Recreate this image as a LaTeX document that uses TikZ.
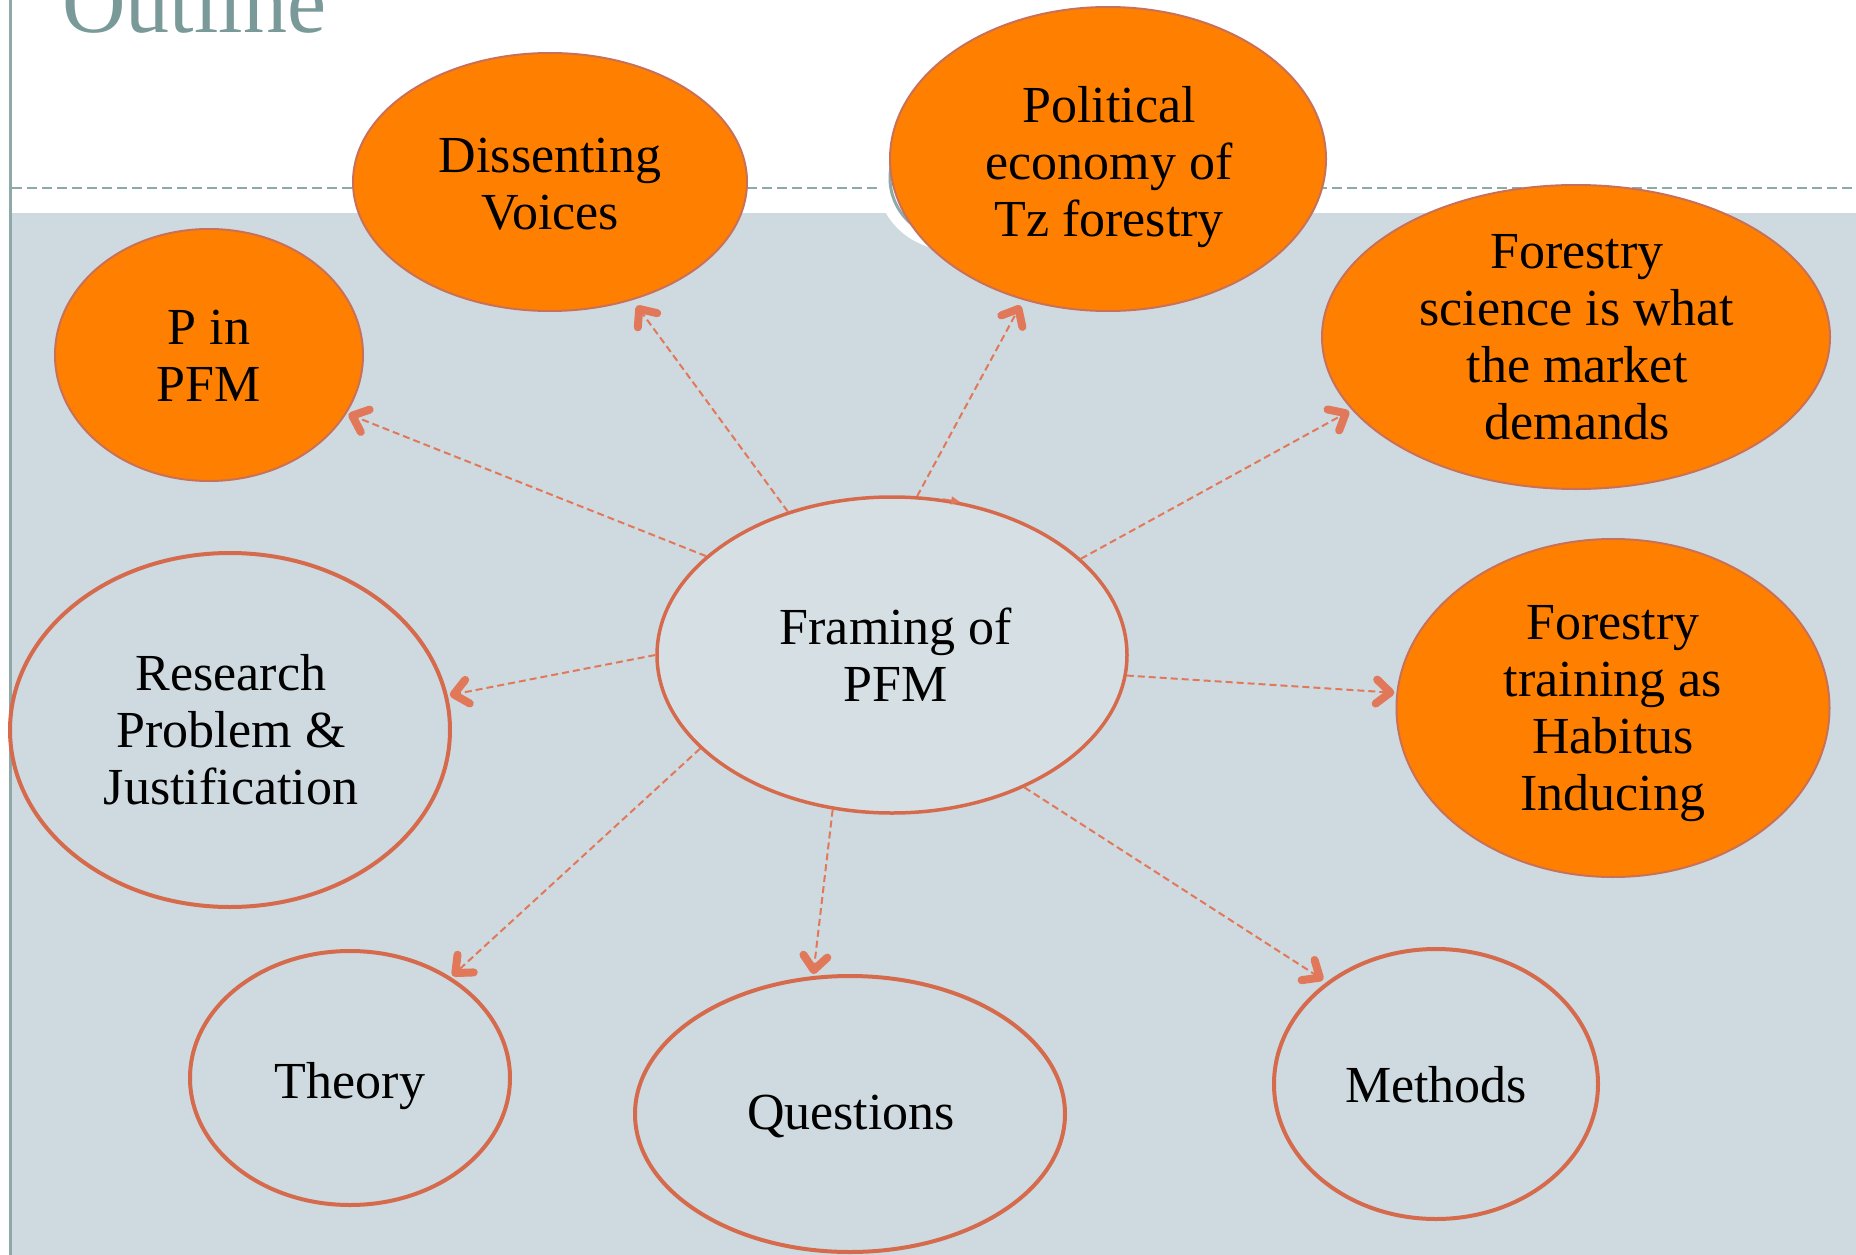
\documentclass[tikz,border=0pt]{standalone}
\usepackage{fontspec}
\setmainfont{Liberation Serif}
\usetikzlibrary{shapes.geometric,arrows.meta}
\definecolor{slate}{RGB}{206,218,223}
\definecolor{hubfill}{RGB}{214,224,228}
\definecolor{tealline}{RGB}{143,169,169}
\definecolor{titlecol}{RGB}{122,153,153}
\definecolor{orangefill}{RGB}{255,128,0}
\definecolor{orangeedge}{RGB}{200,112,88}
\definecolor{rust}{RGB}{214,106,76}
\definecolor{linkcol}{RGB}{226,120,90}

\begin{document}
\begin{tikzpicture}[x=1pt,y=-1pt,
  bubble/.style={ellipse, inner sep=0pt},
  hot/.style={bubble, fill=orangefill, draw=orangeedge, line width=2pt},
  plain/.style={bubble, draw=rust, line width=4pt},
  hubstyle/.style={bubble, fill=hubfill, draw=rust, line width=3.5pt},
  lbl/.style={font=\fontsize{52}{57}\selectfont, align=center, inner sep=0pt},
  link/.style={draw=linkcol, line width=2pt, dash pattern=on 7pt off 4pt,
    -{Straight Barb[length=14pt,width=24pt,line width=8pt 0,round]}},
]
\useasboundingbox (0,0) rectangle (1856,1255);

% slide background
\fill[white] (0,0) rectangle (1856,1255);
\fill[slate] (11,213) rectangle (1856,1255);
\draw[tealline, line width=3pt] (10,0) -- (10,1255);
\draw[tealline, line width=2pt, dash pattern=on 10pt off 5pt] (12,188) -- (1856,188);
\fill[white] (950,176) circle[radius=74];
\draw[tealline, line width=3pt] (950,178) circle[radius=60];

% title
\node[anchor=base west, font=\fontsize{88}{88}\selectfont, text=titlecol, inner sep=0pt]
  (title) at (62,33) {Outline};

% bubbles
\node[hot, minimum width=394pt, minimum height=258pt] (diss) at (550,182) {};
\node[hot, minimum width=436pt, minimum height=304pt] (pol) at (1108,159) {};
\node[hot, minimum width=308pt, minimum height=252pt] (pin) at (209,355) {};
\node[hot, minimum width=508pt, minimum height=304pt] (sci) at (1576,337) {};
\node[hot, minimum width=433pt, minimum height=338pt] (train) at (1613,708) {};
\node[plain, minimum width=440pt, minimum height=354pt] (res) at (230,730) {};
\node[hubstyle, minimum width=470pt, minimum height=316pt] (frame) at (892,655) {};
\node[plain, minimum width=320pt, minimum height=254pt] (theo) at (350,1078) {};
\node[plain, minimum width=430pt, minimum height=276pt] (ques) at (850,1114) {};
\node[plain, minimum width=324pt, minimum height=270pt] (meth) at (1436,1084) {};

% labels
\node[lbl] (diss-t) at (550,184) {Dissenting\\Voices};
\node[lbl] (pol-t) at (1109,167) {Political\\economy of\\Tz forestry};
\node[lbl] (pin-t) at (209,356) {P in\\PFM};
\node[lbl] (sci-t) at (1577,337) {Forestry\\science is what\\the market\\demands};
\node[lbl] (train-t) at (1613,714) {Forestry\\training as\\Habitus\\Inducing};
\node[lbl] (res-t) at (231,730) {Research\\Problem \&\\Justification};
\node[lbl] (frame-t) at (896,655) {Framing of\\PFM};
\node[lbl] (theo-t) at (350,1086) {Theory};
\node[lbl] (ques-t) at (851,1116) {Questions};
\node[lbl] (meth-t) at (1436,1085) {Methods};

% connectors from the hub
\draw[link, shorten >=2pt] (frame.152) -- (pin.-23.8);
\draw[link, shorten >=7pt] (frame.126.5) -- (diss.-55.2);
\draw[link, shorten >=6pt] (frame.81.1) -- (pol.-121.4);
\draw[link, shorten >=3pt] (frame.27) -- (sci.198.6);
\draw[link, shorten >=2pt] (frame.-5.1) -- (train.176);
\draw[link, shorten >=2pt] (frame.180.2) -- (res.9.8);
\draw[link, shorten >=2pt] (frame.206.3) -- (theo.45.3);
\draw[link, shorten >=2pt] (frame.249.7) -- (ques.105.6);
\draw[link, shorten >=4pt] (frame.-45.7) -- (meth.137.1);

% small tip sitting on the hub outline
\draw[draw=linkcol, line width=1.5pt, -{Triangle[length=9pt,width=8pt]}] (frame.72) -- (frame.66);
\end{tikzpicture}
\end{document}
